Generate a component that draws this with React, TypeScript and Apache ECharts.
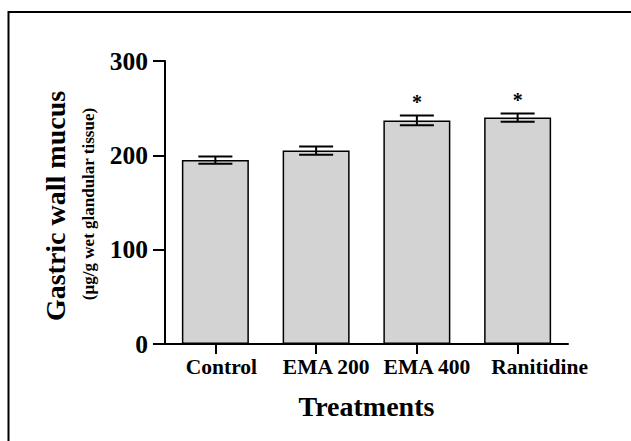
import React, { useEffect, useRef } from "react";
import * as echarts from "echarts";

const categories = ["Control", "EMA 200", "EMA 400", "Ranitidine"];
const means = [195, 205, 237, 240];
const errors = [3.8, 4.4, 5.2, 4.3];
const stars = ["", "", "*", "*"];
const yTicks = [0, 100, 200, 300];

const FONT = "'Liberation Serif', 'Times New Roman', serif";

export default function App() {
  const ref = useRef<HTMLDivElement>(null);
  useEffect(() => {
    if (!ref.current) return;
    const chart = echarts.init(ref.current, undefined, { renderer: "svg" });
    const errData = means.map((m, i) => [i, m - errors[i], m + errors[i], i]);
    const labelFont = { fontFamily: FONT, fontWeight: "bold" as const, fontSize: 21.5, color: "#000" };
    const shiftPad = [12, 20, 20, 44];
    const rich: any = {};
    shiftPad.forEach((p, i) => {
      rich["s" + i] = { ...labelFont, padding: [0, 0, 0, p] };
    });
    chart.setOption({
      animation: false,
      backgroundColor: "#ffffff",
      grid: { left: 165, right: 63, top: 61, bottom: 97, containLabel: false },
      xAxis: {
        type: "category",
        data: categories,
        name: "Treatments",
        nameLocation: "middle",
        nameGap: 48,
        nameTextStyle: { fontFamily: FONT, fontWeight: "bold", fontSize: 28, color: "#000" },
        axisLine: { lineStyle: { color: "#000", width: 2 } },
        axisTick: { show: true, inside: false, alignWithLabel: true, length: 10, lineStyle: { color: "#000", width: 2 } },
        axisLabel: {
          interval: 0,
          ...labelFont,
          margin: 12,
          formatter: (v: string, i: number) => `{s${i}|${v}}`,
          rich,
        },
      },
      yAxis: {
        type: "value",
        min: yTicks[0],
        max: yTicks[yTicks.length - 1],
        interval: 100,
        splitLine: { show: false },
        axisLine: { show: true, lineStyle: { color: "#000", width: 2 } },
        axisTick: { show: true, inside: false, length: 12, lineStyle: { color: "#000", width: 2 } },
        axisLabel: { fontFamily: FONT, fontWeight: "bold", fontSize: 25.5, color: "#000", margin: 17 },
      },
      series: [
        {
          type: "bar",
          data: means,
          barWidth: "66.5%",
          itemStyle: { color: "#d3d3d3", borderColor: "#000", borderWidth: 1.5 },
        },
        {
          type: "custom",
          data: errData,
          z: 10,
          renderItem: (params: any, api: any) => {
            const x = api.value(0);
            const lo = api.coord([x, api.value(1)]);
            const hi = api.coord([x, api.value(2)]);
            const idx = api.value(3);
            const half = 17;
            const style = { stroke: "#000", lineWidth: 2 };
            const children: any[] = [
              { type: "line", shape: { x1: hi[0], y1: hi[1], x2: lo[0], y2: lo[1] }, style },
              { type: "line", shape: { x1: hi[0] - half, y1: hi[1], x2: hi[0] + half, y2: hi[1] }, style },
              { type: "line", shape: { x1: lo[0] - half, y1: lo[1], x2: lo[0] + half, y2: lo[1] }, style },
            ];
            if (stars[idx]) {
              children.push({
                type: "text",
                style: {
                  text: stars[idx],
                  x: hi[0],
                  y: hi[1] - 4,
                  textAlign: "center",
                  textVerticalAlign: "bottom",
                  fontFamily: FONT,
                  fontWeight: "bold",
                  fontSize: 20,
                  fill: "#000",
                },
              });
            }
            return { type: "group", children };
          },
        },
      ],
      graphic: [
        {
          type: "polyline",
          shape: { points: [[8.5, 441], [8.5, 12], [631, 12]] },
          style: { stroke: "#000", lineWidth: 2, fill: null },
        },
        {
          type: "text",
          x: 55,
          y: 206,
          rotation: Math.PI / 2,
          style: {
            text: "Gastric wall mucus",
            textAlign: "center",
            textVerticalAlign: "middle",
            fontFamily: FONT,
            fontWeight: "bold",
            fontSize: 28,
            fill: "#000",
          },
        },
        {
          type: "text",
          x: 88,
          y: 204,
          rotation: Math.PI / 2,
          style: {
            text: "(µg/g wet glandular tissue)",
            textAlign: "center",
            textVerticalAlign: "middle",
            fontFamily: FONT,
            fontWeight: "bold",
            fontSize: 17,
            fill: "#000",
          },
        },
      ],
    });
    return () => chart.dispose();
  }, []);
  return (
    <div
      ref={ref}
      style={{ position: "absolute", left: 0, top: 0, width: 631, height: 441 }}
    />
  );
}
